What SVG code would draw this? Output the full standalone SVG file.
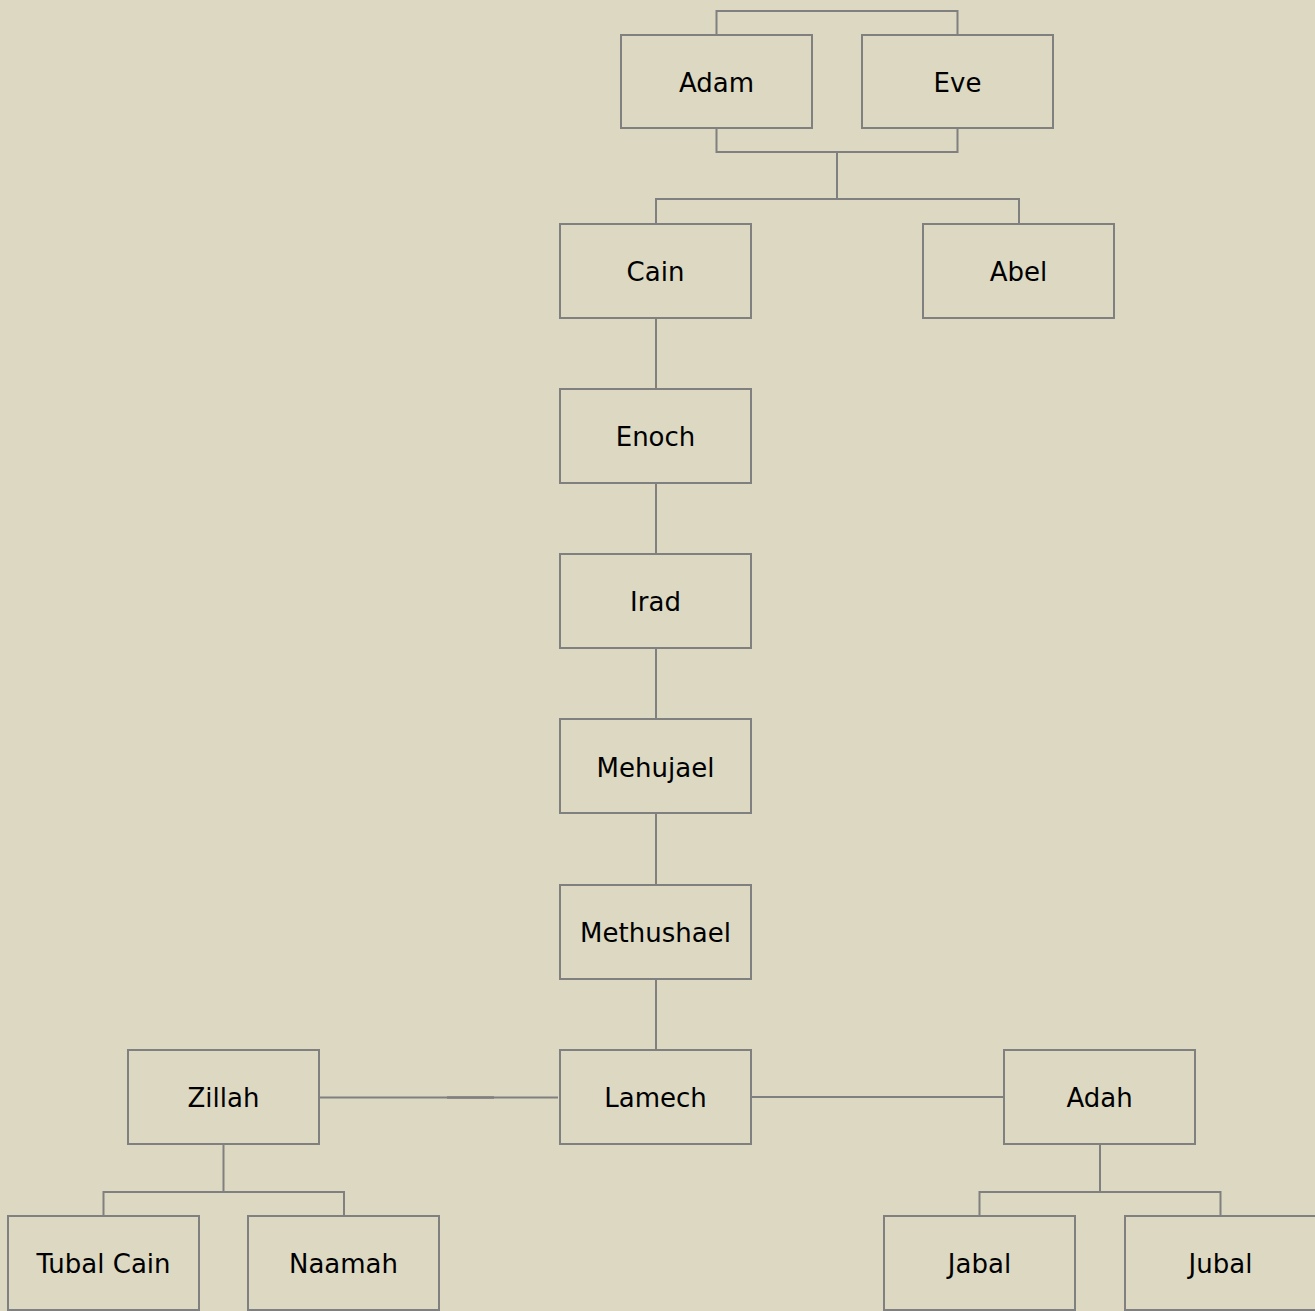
<svg xmlns="http://www.w3.org/2000/svg" width="1315" height="1311" viewBox="0 0 1315 1311">
<style>
.n rect{fill:#dcd8c2;stroke:#808080;stroke-width:2}
.n text{font-family:"DejaVu Sans",sans-serif;font-size:26px;fill:#000;text-anchor:middle}
.c path{fill:none;stroke:#808080;stroke-width:2}
</style>
<rect width="1315" height="1311" fill="#dcd8c2"/>
<g class="c" id="connectors">
<path d="M716.5,35V11H957.5V35"/>
<path d="M716.5,128V152H957.5V128M837,152V199M656,223V199H1019V223"/>
<path d="M656,318V389M656,483V554M656,648V719M656,813V885M656,979V1050"/>
<path d="M319,1097.5H558"/>
<path d="M447,1097.5H494" style="stroke-width:2.5"/>
<path d="M750,1097H1004"/>
<path d="M223.5,1144V1192M103.5,1216V1192H344V1216"/>
<path d="M1100,1144V1192M979.5,1216V1192H1220.5V1216"/>
</g>
<g class="n" id="adam"><rect x="621" y="35" width="191" height="93"/><text x="716.5" y="92">Adam</text></g>
<g class="n" id="eve"><rect x="862" y="35" width="191" height="93"/><text x="957.5" y="92">Eve</text></g>
<g class="n" id="cain"><rect x="560" y="224" width="191" height="94"/><text x="655.5" y="281">Cain</text></g>
<g class="n" id="abel"><rect x="923" y="224" width="191" height="94"/><text x="1018.5" y="281">Abel</text></g>
<g class="n" id="enoch"><rect x="560" y="389" width="191" height="94"/><text x="655.5" y="446">Enoch</text></g>
<g class="n" id="irad"><rect x="560" y="554" width="191" height="94"/><text x="655.5" y="611">Irad</text></g>
<g class="n" id="mehujael"><rect x="560" y="719" width="191" height="94"/><text x="655.5" y="777">Mehujael</text></g>
<g class="n" id="methushael"><rect x="560" y="885" width="191" height="94"/><text x="655.5" y="942">Methushael</text></g>
<g class="n" id="lamech"><rect x="560" y="1050" width="191" height="94"/><text x="655.5" y="1107">Lamech</text></g>
<g class="n" id="zillah"><rect x="128" y="1050" width="191" height="94"/><text x="223.5" y="1107">Zillah</text></g>
<g class="n" id="adah"><rect x="1004" y="1050" width="191" height="94"/><text x="1099.5" y="1107">Adah</text></g>
<g class="n" id="tubalcain"><rect x="8" y="1216" width="191" height="94"/><text x="103.5" y="1273">Tubal Cain</text></g>
<g class="n" id="naamah"><rect x="248" y="1216" width="191" height="94"/><text x="343.5" y="1273">Naamah</text></g>
<g class="n" id="jabal"><rect x="884" y="1216" width="191" height="94"/><text x="979.5" y="1273">Jabal</text></g>
<g class="n" id="jubal"><rect x="1125" y="1216" width="191" height="94"/><text x="1220.5" y="1273">Jubal</text></g>
</svg>
